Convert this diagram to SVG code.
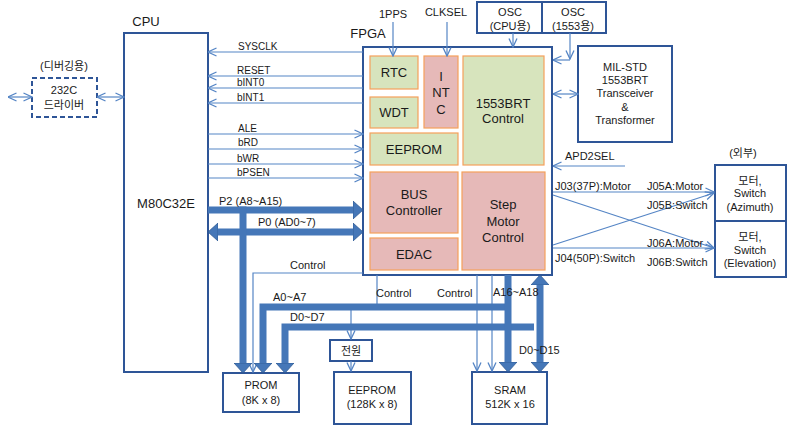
<svg xmlns="http://www.w3.org/2000/svg" width="787" height="425" viewBox="0 0 787 425">
<defs>
<style>
text{font-family:"Liberation Sans","Noto Sans CJK KR",sans-serif;fill:#1a1a1a;text-anchor:middle}
.s{font-size:10px;text-anchor:start}
.l{font-size:11px}
.m{font-size:13px}
.box{fill:#fff;stroke:#2e5597;stroke-width:2}
.g{fill:#d7e4bd;stroke:#f5a05a;stroke-width:1.2}
.p{fill:#e6b9b8;stroke:#f5a05a;stroke-width:1.2}
.ln{fill:none;stroke:#5585c5;stroke-width:1.2}
.bus{fill:none;stroke:#4577b8;stroke-width:7}
</style>
<marker id="a" viewBox="0 0 10 10" refX="9.5" refY="5" markerWidth="10" markerHeight="10" orient="auto-start-reverse" markerUnits="userSpaceOnUse"><path d="M1,1 L9.5,5 L1,9" fill="none" stroke="#5585c5" stroke-width="1.3"/></marker>
<marker id="t" viewBox="0 0 10 18" refX="4" refY="9" markerWidth="10" markerHeight="18" orient="auto-start-reverse" markerUnits="userSpaceOnUse"><path d="M0,0 L10,9 L0,18 Z" fill="#4577b8" stroke="#2f5a94" stroke-width="0.8"/></marker>
</defs>
<rect width="787" height="425" fill="#fff"/>

<g id="labels">
<text class="m" x="146" y="26">CPU</text>
<text class="m" x="368" y="38">FPGA</text>
<text class="l" x="64" y="70">(디버깅용)</text>
<text class="l" x="393" y="18">1PPS</text>
<text class="l" x="446" y="16">CLKSEL</text>
<text class="l" x="743" y="157">(외부)</text>
</g>

<g id="cpu"><rect class="box" x="124" y="33" width="84" height="339"/><text class="m" x="166" y="208">M80C32E</text></g>
<g id="rs232"><rect x="32" y="78" width="65" height="39" fill="#fff" stroke="#2e5597" stroke-width="2" stroke-dasharray="5,3"/><text class="l" x="64" y="94">232C</text><text class="l" x="64" y="109">드라이버</text></g>
<g id="fpga"><rect class="box" x="363" y="47" width="189" height="228"/></g>
<g id="rtc"><rect class="g" x="370" y="56" width="48" height="33"/><text class="m" x="394" y="77">RTC</text></g>
<g id="wdt"><rect class="g" x="370" y="97" width="48" height="31"/><text class="m" x="394" y="117">WDT</text></g>
<g id="intc"><rect class="p" x="424" y="56" width="34" height="72"/><text class="m" x="441" y="81">I</text><text class="m" x="441" y="97">NT</text><text class="m" x="441" y="114">C</text></g>
<g id="brt"><rect class="g" x="463" y="56" width="81" height="109"/><text class="m" x="503" y="108">1553BRT</text><text class="m" x="503" y="123">Control</text></g>
<g id="eeprom-i"><rect class="g" x="370" y="133" width="88" height="32"/><text class="m" x="414" y="154">EEPROM</text></g>
<g id="busc"><rect class="p" x="370" y="172" width="88" height="61"/><text class="m" x="414" y="199">BUS</text><text class="m" x="414" y="215">Controller</text></g>
<g id="edac"><rect class="p" x="370" y="238" width="88" height="32"/><text class="m" x="414" y="259">EDAC</text></g>
<g id="step"><rect class="p" x="462" y="172" width="83" height="98"/><text class="m" x="503" y="209">Step</text><text class="m" x="503" y="226">Motor</text><text class="m" x="503" y="242">Control</text></g>
<g id="osc1"><rect class="box" x="477" y="2" width="65" height="31"/><text class="l" x="510" y="16">OSC</text><text class="l" x="510" y="30">(CPU용)</text></g>
<g id="osc2"><rect class="box" x="542" y="2" width="64" height="31"/><text class="l" x="573" y="16">OSC</text><text class="l" x="573" y="30">(1553용)</text></g>
<g id="mil"><rect class="box" x="578" y="46" width="94" height="96"/><text class="l" x="625" y="71">MIL-STD</text><text class="l" x="625" y="84">1553BRT</text><text class="l" x="625" y="97">Transceiver</text><text class="l" x="625" y="111">&amp;</text><text class="l" x="625" y="124">Transformer</text></g>
<g id="az"><rect class="box" x="715" y="165" width="71" height="56"/><text class="l" x="750" y="185">모터,</text><text class="l" x="750" y="197">Switch</text><text class="l" x="750" y="211">(Azimuth)</text></g>
<g id="el"><rect class="box" x="715" y="221" width="71" height="56"/><text class="l" x="750" y="241">모터,</text><text class="l" x="750" y="254">Switch</text><text class="l" x="750" y="267">(Elevation)</text></g>
<g id="prom"><rect class="box" x="223" y="373" width="76" height="39"/><text class="l" x="261" y="389">PROM</text><text class="l" x="261" y="404">(8K x 8)</text></g>
<g id="power"><rect class="box" x="330" y="340" width="42" height="21"/><text class="l" x="351" y="355">전원</text></g>
<g id="eeprom"><rect class="box" x="334" y="372" width="77" height="52"/><text class="l" x="372" y="394">EEPROM</text><text class="l" x="372" y="408">(128K x 8)</text></g>
<g id="sram"><rect class="box" x="472" y="372" width="75" height="52"/><text class="l" x="510" y="394">SRAM</text><text class="l" x="510" y="408">512K x 16</text></g>

<g id="connectors">
<line class="ln" x1="32" y1="97" x2="8" y2="97" marker-start="url(#a)" marker-end="url(#a)"/>
<line class="ln" x1="97" y1="97" x2="124" y2="97" marker-start="url(#a)" marker-end="url(#a)"/>
<line class="ln" x1="363" y1="52" x2="208" y2="52" marker-end="url(#a)"/>
<line class="ln" x1="363" y1="76" x2="208" y2="76" marker-end="url(#a)"/>
<line class="ln" x1="363" y1="88" x2="208" y2="88" marker-end="url(#a)"/>
<line class="ln" x1="363" y1="103" x2="208" y2="103" marker-end="url(#a)"/>
<line class="ln" x1="208" y1="134" x2="363" y2="134" marker-end="url(#a)"/>
<line class="ln" x1="208" y1="149" x2="363" y2="149" marker-end="url(#a)"/>
<line class="ln" x1="208" y1="164" x2="363" y2="164" marker-end="url(#a)"/>
<line class="ln" x1="208" y1="178" x2="363" y2="178" marker-end="url(#a)"/>
<line class="ln" x1="393" y1="22" x2="393" y2="56" marker-end="url(#a)"/>
<line class="ln" x1="447" y1="22" x2="447" y2="56" marker-end="url(#a)"/>
<line class="ln" x1="513" y1="33" x2="513" y2="47" marker-end="url(#a)"/>
<line class="ln" x1="570" y1="33" x2="570" y2="59" marker-end="url(#a)"/>
<line class="ln" x1="570" y1="60" x2="553" y2="60" marker-end="url(#a)"/>
<line class="ln" x1="553" y1="94" x2="578" y2="94" marker-start="url(#a)" marker-end="url(#a)"/>
<line class="ln" x1="625" y1="166" x2="553" y2="166" marker-end="url(#a)"/>
<line class="ln" x1="553" y1="192" x2="714" y2="192" marker-end="url(#a)"/>
<line class="ln" x1="553" y1="195" x2="714" y2="248" marker-end="url(#a)"/>
<line class="ln" x1="553" y1="248" x2="714" y2="248" marker-end="url(#a)"/>
<line class="ln" x1="553" y1="245" x2="714" y2="193" marker-end="url(#a)"/>
<polyline class="ln" points="363,273 253,273 253,372" marker-end="url(#a)"/>
<polyline class="ln" points="377,275 377,307 351,307 351,339" marker-end="url(#a)"/>
<line class="ln" x1="351" y1="361" x2="351" y2="371" marker-end="url(#a)"/>
<line class="ln" x1="477" y1="275" x2="477" y2="371" marker-end="url(#a)"/>
<line class="ln" x1="492" y1="275" x2="492" y2="371" marker-end="url(#a)"/>
<line class="bus" x1="208" y1="210" x2="357" y2="210" marker-end="url(#t)"/>
<line class="bus" x1="214" y1="232" x2="357" y2="232" marker-start="url(#t)" marker-end="url(#t)"/>
<line class="bus" x1="243" y1="206.5" x2="243" y2="367" marker-end="url(#t)"/>
<polyline class="bus" points="508,307 263,307 263,367" marker-end="url(#t)"/>
<polyline class="bus" points="534,327 285,327 285,367" marker-end="url(#t)"/>
<line class="bus" x1="508" y1="275" x2="508" y2="366" marker-end="url(#t)"/>
<line class="bus" x1="540" y1="281" x2="540" y2="366" marker-start="url(#t)" marker-end="url(#t)"/>
</g>

<g id="conn-labels">
<text class="s" x="238" y="50">SYSCLK</text>
<text class="s" x="237" y="74">RESET</text>
<text class="s" x="237" y="86">bINT0</text>
<text class="s" x="237" y="101">bINT1</text>
<text class="s" x="238" y="132">ALE</text>
<text class="s" x="238" y="146">bRD</text>
<text class="s" x="237" y="162">bWR</text>
<text class="s" x="237" y="176">bPSEN</text>
<text class="s" x="219" y="205" style="font-size:11px">P2 (A8~A15)</text>
<text class="s" x="258" y="226" style="font-size:11px">P0 (AD0~7)</text>
<text class="s" x="290" y="269" style="font-size:11px">Control</text>
<text class="s" x="376" y="297" style="font-size:11px">Control</text>
<text class="s" x="437" y="297" style="font-size:11px">Control</text>
<text class="s" x="273" y="301" style="font-size:11px">A0~A7</text>
<text class="s" x="290" y="321" style="font-size:11px">D0~D7</text>
<text class="s" x="493" y="296" style="font-size:11px">A16~A18</text>
<text class="s" x="519" y="354" style="font-size:11px">D0~D15</text>
<text class="s" x="565" y="160" style="font-size:11px">APD2SEL</text>
<text class="s" x="555" y="190" style="font-size:11px">J03(37P):Motor</text>
<text class="s" x="647" y="190" style="font-size:11px">J05A:Motor</text>
<text class="s" x="647" y="209" style="font-size:11px">J05B:Switch</text>
<text class="s" x="647" y="247" style="font-size:11px">J06A:Motor</text>
<text class="s" x="647" y="266" style="font-size:11px">J06B:Switch</text>
<text class="s" x="555" y="262" style="font-size:11px">J04(50P):Switch</text>
</g>
</svg>
